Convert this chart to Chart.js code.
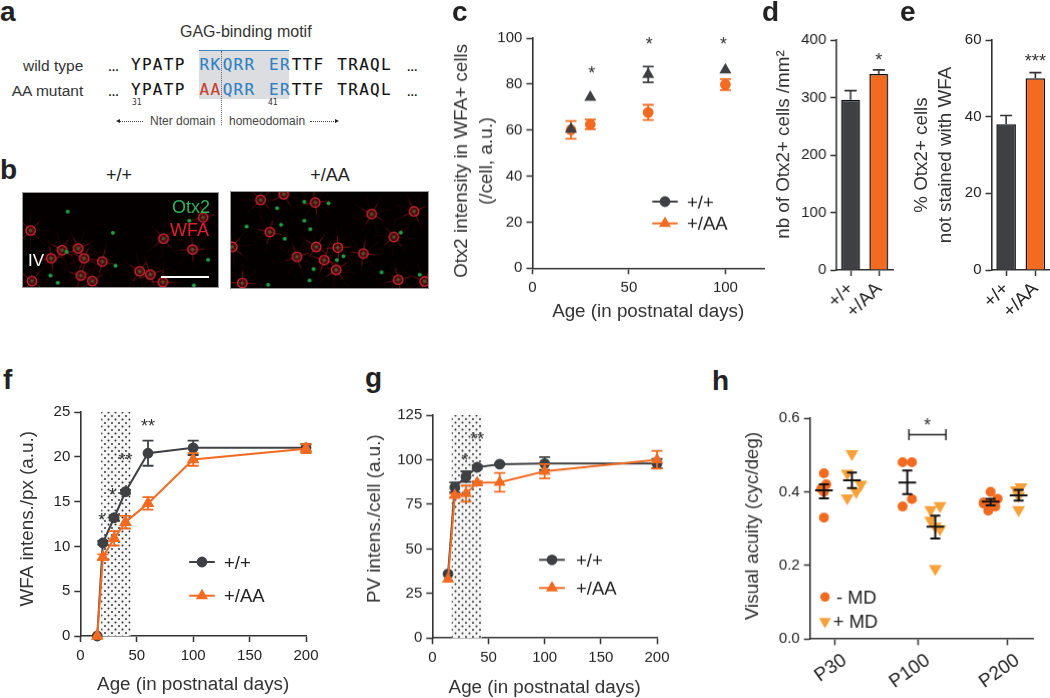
<!DOCTYPE html>
<html>
<head>
<meta charset="utf-8">
<title>Otx2 figure</title>
<script src="https://cdn.jsdelivr.net/npm/chart.js@4/dist/chart.umd.js"></script>
<style>
html, body { margin: 0; padding: 0; background: #fff; overflow: hidden; }
#page { position: relative; width: 1050px; height: 698px; overflow: hidden; font-family: "Liberation Sans", sans-serif; }
#page canvas { position: absolute; }
.txt { position: absolute; white-space: pre; line-height: 1; color: #333; }
.micro { border: 1px solid #999; background: #050000; box-sizing: border-box; filter: blur(0.5px); }
</style>
</head>
<body>
<div id="page"></div>
<script>
// ---- data ----

// panel c
var cNames = ['+/+', '+/AA'];
var cDarkDays = [20, 30, 60, 100];
var cDark = [60.4, 74.3, 84.2, 86.2];
var cDarkErr = [0, 0, 3.4, 0];
var cOrangeDays = [20, 30, 60, 100];
var cOrange = [60.1, 62.5, 67.7, 79.8];
var cOrangeErr = [3.9, 2.1, 3.3, 2.4];
var cStars = [[30.7, 86.5, '*'], [60.5, 99.5, '*'], [99, 99.5, '*']];

// panel d
var dLabels = ['+/+', '+/AA'];
var dValues = [296, 341];
var dErr = [16, 7];
var dStars = [[1, 373, '*']];

// panel e
var eLabels = ['+/+', '+/AA'];
var eValues = [38, 50];
var eErr = [2.3, 1.5];
var eStars = [[1, 55.8, '***']];

// panel f
var fDays = [15, 20, 30, 40, 60, 100, 200];
var fWild = [0, 10.4, 13.2, 16.1, 20.4, 21, 21];
var fWildErr = [0, 0.2, 0.3, 0.2, 1.4, 0.8, 0.4];
var fMutant = [0, 8.8, 10.9, 12.7, 14.8, 19.7, 20.9];
var fMutantErr = [0, 0.3, 0.8, 0.7, 0.7, 0.7, 0.5];
var fShade = [18.5, 44.5];
var fStars = [[60, 23.9, '**'], [40, 20.1, '**'], [28.5, 16.2, '*'], [19, 13.4, '*']];

// panel g
var gDays = [14, 20, 30, 40, 60, 100, 200];
var gWild = [36, 84.5, 90.5, 95.8, 97.5, 97.8, 97.8];
var gWildErr = [0, 2.8, 3, 1, 0.5, 3.6, 2.6];
var gMutant = [33, 80, 81, 87, 87.3, 93.5, 100];
var gMutantErr = [0, 1, 4.5, 1, 5.3, 4, 5];
var gShade = [17.3, 44];
var gStars = [[40, 114, '**'], [29, 102, '*']];

// panel h, x in group units (P30 = 1, P100 = 2, P200 = 3.08)
var hTicks = [1, 2, 3.076];
var hTickLabels = ['P30', 'P100', 'P200'];
var hNames = ['- MD', '+ MD'];
var hMinusX = [0.872, 0.9, 0.84, 0.872, 0.872, 1.816, 1.928, 1.928, 1.816, 2.872, 2.956, 2.788, 2.872, 2.928, 2.844, 2.788];
var hMinusY = [0.45, 0.42, 0.408, 0.4, 0.33, 0.48, 0.48, 0.38, 0.36, 0.4, 0.381, 0.371, 0.37, 0.36, 0.349, 0.368];
var hPlusX = [1.208, 1.152, 1.316, 1.26, 1.152, 2.152, 2.264, 2.152, 2.264, 2.208, 2.208, 3.236, 3.18, 3.208, 3.208];
var hPlusY = [0.503, 0.45, 0.42, 0.4, 0.383, 0.351, 0.362, 0.322, 0.299, 0.306, 0.191, 0.413, 0.405, 0.389, 0.351];
var hMeanX = [0.872, 1.208, 1.872, 2.208, 2.872, 3.208];
var hMean = [0.404, 0.431, 0.425, 0.305, 0.373, 0.39];
var hMeanHi = [0.42, 0.452, 0.458, 0.335, 0.381, 0.405];
var hMeanLo = [0.382, 0.41, 0.394, 0.273, 0.363, 0.376];
var hBracket = [1.892, 2.336, 0.555];
var hStars = [[2.112, 0.593, '*']];

// panel b, cells and free nuclei in image units
var bLeftCellX = [88, 150, 183, 232, 305, 490, 578, 418, 450, 240, 275, 488, 92, 610, 250];
var bLeftCellY = [690, 775, 750, 745, 785, 715, 748, 815, 825, 828, 845, 848, 845, 650, 775];
var bLeftDotX = [200, 337, 197, 345, 170, 568, 625, 582, 148];
var bLeftDotY = [632, 697, 755, 798, 850, 660, 780, 858, 828];
var bRightCellX = [780, 945, 1115, 1243, 808, 1182, 1013, 948, 890, 972, 1008, 725, 695, 1195, 1275, 850, 1090];
var bRightCellY = [597, 605, 640, 632, 695, 710, 742, 740, 770, 780, 810, 850, 740, 840, 845, 580, 760];
var bRightDotX = [912, 985, 830, 912, 738, 842, 930, 853, 1203, 1010, 1030, 940, 928, 803, 1145, 1260];
var bRightDotY = [603, 607, 622, 660, 678, 673, 686, 715, 697, 780, 768, 808, 842, 855, 817, 825];

// panel a
var seqWild = [['YPATP', 131, '#111'], ['RK', 199.5, '#2f7fc1'], ['QRR', 222.7, '#2f7fc1'], ['ER', 269, '#2f7fc1'], ['TTF', 291.7, '#111'], ['TRAQL', 337.3, '#111']];
var seqMutant = [['YPATP', 131, '#111'], ['AA', 199.5, '#c8402a'], ['QRR', 222.7, '#2f7fc1'], ['ER', 269, '#2f7fc1'], ['TTF', 291.7, '#111'], ['TRAQL', 337.3, '#111']];

// ---- colours ----
var DARK = '#3e4043';
var ORANGE = '#f26b21';
var AMBER = '#f8a13a';
var AXIS = '#333';

Chart.defaults.animation = false;
Chart.defaults.font.family = '"Liberation Sans", sans-serif';
Chart.defaults.color = '#222';
Chart.defaults.plugins.legend.display = false;
Chart.defaults.plugins.tooltip.enabled = false;

var page = document.getElementById('page');

function text(str, x, baseline, size, opts) {
	opts = opts || {};
	var d = document.createElement('div');
	d.className = 'txt';
	d.textContent = str;
	d.style.left = x + 'px';
	d.style.top = (baseline - 0.8465 * size) + 'px';
	d.style.fontSize = size + 'px';
	if (opts.color) d.style.color = opts.color;
	if (opts.bold) d.style.fontWeight = 'bold';
	if (opts.font) d.style.fontFamily = opts.font;
	if (opts.spacing) d.style.letterSpacing = opts.spacing + 'px';
	if (opts.stroke) d.style.webkitTextStroke = opts.stroke + 'px ' + (opts.color || '#333');
	if (opts.align == 'right') d.style.transform = 'translateX(-100%)';
	if (opts.align == 'center') d.style.transform = 'translateX(-50%)';
	page.appendChild(d);
}

function rect(x, y, w, h, style) {
	var d = document.createElement('div');
	d.style.position = 'absolute';
	d.style.left = x + 'px';
	d.style.top = y + 'px';
	d.style.width = w + 'px';
	d.style.height = h + 'px';
	for (var k in style) d.style[k] = style[k];
	page.appendChild(d);
}

function addCanvas(x, y, w, h) {
	var c = document.createElement('canvas');
	c.width = w;
	c.height = h;
	c.style.left = x + 'px';
	c.style.top = y + 'px';
	c.style.width = w + 'px';
	c.style.height = h + 'px';
	page.appendChild(c);
	return c;
}

var dotTile = null;
function dotPattern(ctx) {
	if (!dotTile) {
		dotTile = document.createElement('canvas');
		dotTile.width = 7;
		dotTile.height = 7;
		var t = dotTile.getContext('2d');
		t.fillStyle = '#f5f5f5';
		t.fillRect(0, 0, 7, 7);
		t.fillStyle = '#2a2a2a';
		[[1.5, 1.5], [5, 5]].forEach(function (p) {
			t.beginPath();
			t.arc(p[0], p[1], 0.95, 0, Math.PI * 2);
			t.fill();
		});
	}
	return ctx.createPattern(dotTile, 'repeat');
}

// error bars, shaded period, stars, mean bars and the little legends
var figureMarks = {
	id: 'figureMarks',
	beforeDatasetsDraw: function (chart, args, o) {
		if (!o.shade) return;
		var ctx = chart.ctx, a = chart.chartArea;
		var x1 = chart.scales.x.getPixelForValue(o.shade[0]);
		var x2 = chart.scales.x.getPixelForValue(o.shade[1]);
		ctx.save();
		ctx.fillStyle = dotPattern(ctx);
		ctx.fillRect(x1, a.top, x2 - x1, a.bottom - a.top);
		ctx.restore();
	},
	afterDatasetDraw: function (chart, args) {
		var ds = chart.data.datasets[args.index];
		if (!ds.errs) return;
		var ctx = chart.ctx, yScale = chart.scales.y;
		ctx.save();
		ctx.strokeStyle = ds.errColor || ds.borderColor;
		ctx.lineWidth = ds.errWidth || 1.8;
		args.meta.data.forEach(function (el, i) {
			var e = ds.errs[i];
			if (!e) return;
			var v = ds.yValues ? ds.yValues[i] : ds.data[i];
			var hi = yScale.getPixelForValue(v + e);
			var lo = yScale.getPixelForValue(ds.upOnly ? v : v - e);
			var c = ds.capWidth || 5.5;
			ctx.beginPath();
			ctx.moveTo(el.x, hi);
			ctx.lineTo(el.x, lo);
			ctx.moveTo(el.x - c, hi);
			ctx.lineTo(el.x + c, hi);
			if (!ds.upOnly) {
				ctx.moveTo(el.x - c, lo);
				ctx.lineTo(el.x + c, lo);
			}
			ctx.stroke();
		});
		ctx.restore();
	},
	afterDatasetsDraw: function (chart, args, o) {
		var ctx = chart.ctx, xs = chart.scales.x, ys = chart.scales.y;
		ctx.save();
		if (o.means) {
			ctx.strokeStyle = '#111';
			ctx.lineWidth = 2;
			o.means.x.forEach(function (v, i) {
				var px = xs.getPixelForValue(v);
				var m = ys.getPixelForValue(o.means.mean[i]);
				var hi = ys.getPixelForValue(o.means.hi[i]);
				var lo = ys.getPixelForValue(o.means.lo[i]);
				ctx.beginPath();
				ctx.moveTo(px - 8.8, m); ctx.lineTo(px + 8.8, m);
				ctx.moveTo(px, hi); ctx.lineTo(px, lo);
				ctx.moveTo(px - 5, hi); ctx.lineTo(px + 5, hi);
				ctx.moveTo(px - 5, lo); ctx.lineTo(px + 5, lo);
				ctx.stroke();
			});
		}
		if (o.bracket) {
			var bx1 = xs.getPixelForValue(o.bracket[0]);
			var bx2 = xs.getPixelForValue(o.bracket[1]);
			var by = ys.getPixelForValue(o.bracket[2]);
			ctx.strokeStyle = '#222';
			ctx.lineWidth = 1.5;
			ctx.beginPath();
			ctx.moveTo(bx1, by - 5.5); ctx.lineTo(bx1, by + 5.5);
			ctx.moveTo(bx2, by - 5.5); ctx.lineTo(bx2, by + 5.5);
			ctx.moveTo(bx1, by); ctx.lineTo(bx2, by);
			ctx.stroke();
		}
		if (o.stars) {
			ctx.fillStyle = '#333';
			ctx.font = '18px "Liberation Sans"';
			ctx.textAlign = 'center';
			ctx.textBaseline = 'alphabetic';
			o.stars.forEach(function (s) {
				ctx.fillText(s[2], xs.getPixelForValue(s[0]), ys.getPixelForValue(s[1]) + 10.5);
			});
		}
		if (o.legend) {
			ctx.textAlign = 'left';
			ctx.textBaseline = 'alphabetic';
			o.legend.forEach(function (it) {
				var x0 = it.x - chart.canvas.offsetLeft, y0 = it.y - chart.canvas.offsetTop;
				if (it.line) {
					ctx.strokeStyle = it.color;
					ctx.lineWidth = 2;
					ctx.beginPath();
					ctx.moveTo(x0 - it.line, y0);
					ctx.lineTo(x0 + it.line, y0);
					ctx.stroke();
				}
				ctx.fillStyle = it.color;
				ctx.strokeStyle = it.color;
				Chart.helpers.drawPoint(ctx, { pointStyle: it.style, radius: it.r, rotation: it.rot || 0, borderWidth: 1 }, x0, y0);
				ctx.fillStyle = '#222';
				ctx.font = it.size + 'px "Liberation Sans"';
				ctx.fillText(it.label, it.tx - chart.canvas.offsetLeft, y0 + it.size * 0.36);
			});
		}
		ctx.restore();
	}
};
Chart.register(figureMarks);

function axisBase(size) {
	return {
		border: { display: true, color: AXIS, width: 1.6 },
		grid: { drawOnChartArea: false, drawTicks: true, tickLength: 6, tickColor: AXIS, tickWidth: 1.5 },
		afterFit: function (s) { if (s.isHorizontal()) s.height = size; else s.width = size; }
	};
}

// plot = [left, top, right, bottom] of the plot area on the page
function panel(plot, yTitleX, yTitleLH, canvasBottom, cfg) {
	var padT = 22, padR = 24;
	var cx = Math.round(yTitleX - yTitleLH / 2);
	var cy = plot[1] - padT;
	var yW = plot[0] - cx;
	var xH = canvasBottom - plot[3];
	var c = addCanvas(cx, cy, plot[2] + padR - cx, canvasBottom - cy);
	var y = Object.assign(axisBase(yW), {
		min: cfg.y[0], max: cfg.y[1],
		ticks: { stepSize: cfg.y[2], font: { size: 15 }, padding: 4, includeBounds: false, color: '#222',
			callback: function (v) { return cfg.yDigits ? v.toFixed(cfg.yDigits) : v; } },
		title: { display: true, text: cfg.yTitle, color: '#333', padding: 0, font: { size: 18.8, lineHeight: yTitleLH / 18.8 } }
	});
	var x = Object.assign(axisBase(xH), cfg.x);
	x.grid = Object.assign({}, x.grid, cfg.xGrid || {});
	new Chart(c, {
		type: cfg.type || 'scatter',
		data: { labels: cfg.labels, datasets: cfg.datasets },
		options: {
			responsive: false,
			layout: { autoPadding: false, padding: { top: padT, right: padR, left: 0, bottom: 0 } },
			scales: { x: x, y: y },
			plugins: { figureMarks: cfg.marks || {} }
		}
	});
}

function pts(xs, ys) {
	return xs.map(function (v, i) { return { x: v, y: ys[i] }; });
}

function lineSet(name, xs, ys, errs, color, style, r, showLine, order) {
	return {
		label: name, data: pts(xs, ys), yValues: ys, errs: errs, borderColor: color, backgroundColor: color,
		errColor: color, pointStyle: style, pointRadius: r, pointBorderColor: color, pointBackgroundColor: color,
		showLine: showLine, borderWidth: 2, clip: false, order: order
	};
}

function numAxis(max, step) {
	return {
		type: 'linear', min: 0, max: max,
		ticks: { stepSize: step, includeBounds: false, font: { size: 15 }, padding: 5, maxRotation: 0, color: '#222' },
		title: { display: true, text: 'Age (in postnatal days)', color: '#333', padding: 0, font: { size: 18.8, lineHeight: 24 / 18.8 } }
	};
}

function legendItems(names, lx, lineHalf, tx, y1, y2, style1, style2) {
	return [
		{ label: names[0], color: DARK, style: style1, r: 4.4, x: lx, y: y1, line: lineHalf, tx: tx, size: 18.5 },
		{ label: names[1], color: ORANGE, style: style2, r: 5, x: lx, y: y2, line: lineHalf, tx: tx, size: 18.5 }
	];
}

// ---- panel c ----
panel([532.4, 38.3, 764.4, 268.3], 461, 25, 324, {
	yTitle: ['Otx2 intensity in WFA+ cells   ', '(/cell, a.u.)   '],
	y: [0, 100, 20],
	x: numAxis(120, 50),
	datasets: [
		lineSet('+/+ dark', cDarkDays, cDark, cDarkErr, DARK, 'triangle', 5, false, 1),
		lineSet('+/AA orange', cOrangeDays, cOrange, cOrangeErr, ORANGE, 'circle', 4.4, false, 2)
	],
	marks: { stars: cStars, legend: legendItems(cNames, 665, 12.7, 687, 201, 222.7, 'circle', 'triangle') }
});

// ---- panels d and e ----
function barPanel(plot, titleX, titleLH, title, labels, values, errs, yr, stars) {
	panel(plot, titleX, titleLH, 326, {
		type: 'bar',
		labels: labels,
		yTitle: title,
		y: yr,
		x: { type: 'category', ticks: { font: { size: 18.5 }, minRotation: 45, maxRotation: 45, autoSkip: false, padding: 2, color: '#222' } },
		xGrid: { offset: false },
		datasets: [{
			data: values, errs: errs, upOnly: true, errColor: '#333', capWidth: 6, errWidth: 1.6,
			backgroundColor: [DARK, ORANGE], borderColor: '#111', borderWidth: 1.5,
			categoryPercentage: 1, barPercentage: 0.67
		}],
		marks: { stars: stars }
	});
}
barPanel([836, 40, 892.6, 270], 784, 24, '    nb of Otx2+ cells /mm²', dLabels, dValues, dErr, [0, 400, 100], dStars);
barPanel([991.5, 40, 1050, 270], 922, 24, ['% Otx2+ cells', 'not stained with WFA'], eLabels, eValues, eErr, [0, 60, 20], eStars);

// ---- panel f ----
panel([80.3, 412, 306, 636], 28.3, 24, 697, {
	yTitle: '  WFA intens./px (a.u.)',
	y: [0, 25, 5],
	x: numAxis(200, 50),
	datasets: [
		lineSet('+/+', fDays, fWild, fWildErr, DARK, 'circle', 4.4, true, 2),
		lineSet('+/AA', fDays, fMutant, fMutantErr, ORANGE, 'triangle', 5.4, true, 1)
	],
	marks: { shade: fShade, stars: fStars, legend: legendItems(cNames, 202, 12.8, 224, 562, 595.7, 'circle', 'triangle') }
});

// ---- panel g ----
panel([432.3, 415.3, 657, 638.3], 375, 24, 700, {
	yTitle: '   PV intens./cell (a.u.)',
	y: [0, 125, 25],
	x: numAxis(200, 50),
	datasets: [
		lineSet('+/+', gDays, gWild, gWildErr, DARK, 'circle', 4.4, true, 2),
		lineSet('+/AA', gDays, gMutant, gMutantErr, ORANGE, 'triangle', 5, true, 1)
	],
	marks: { shade: gShade, stars: gStars, legend: legendItems(cNames, 552, 12.8, 576, 559.3, 587.3, 'circle', 'triangle') }
});

// ---- panel h ----
panel([809.7, 418.3, 1032.7, 639.3], 753, 24, 698, {
	yTitle: ' Visual acuity (cyc/deg)',
	y: [0, 0.6, 0.2],
	yDigits: 1,
	x: {
		type: 'linear', min: 0.704, max: 3.38,
		afterBuildTicks: function (s) { s.ticks = hTicks.map(function (v) { return { value: v }; }); },
		ticks: {
			font: { size: 19 }, minRotation: 35, maxRotation: 35, autoSkip: false, padding: 4, labelOffset: 10, color: '#222',
			callback: function (v, i) { return hTickLabels[i]; }
		}
	},
	datasets: [
		lineSet('- MD', hMinusX, hMinusY, null, ORANGE, 'circle', 4, false, 2),
		Object.assign(lineSet('+ MD', hPlusX, hPlusY, null, AMBER, 'triangle', 5.4, false, 1), { pointRotation: 180 })
	],
	marks: {
		means: { x: hMeanX, mean: hMean, hi: hMeanHi, lo: hMeanLo },
		bracket: hBracket,
		stars: hStars,
		legend: [
			{ label: hNames[0], color: ORANGE, style: 'circle', r: 4, x: 824.7, y: 596.3, tx: 836, size: 18.5 },
			{ label: hNames[1], color: AMBER, style: 'triangle', rot: 180, r: 5.4, x: 824.7, y: 620.7, tx: 832.7, size: 18.5 }
		]
	}
});

// ---- panel b micrographs ----
function micro(box, range, cellX, cellY, dotX, dotY) {
	var c = addCanvas(box[0], box[1], box[2], box[3]);
	c.className = 'micro';
	var cells = pts(cellX, cellY), dots = pts(dotX, dotY);
	var spin = function (ctx) { return ctx.dataIndex * 37; };
	new Chart(c, {
		type: 'scatter',
		data: { datasets: [
			{ data: dots, pointRadius: 2, pointBackgroundColor: '#1fa344', pointBorderWidth: 0, order: 1 },
			{ data: cells, pointRadius: 1.8, pointBackgroundColor: 'rgba(70,130,60,0.55)', pointBorderWidth: 0, order: 2 },
			{ data: cells, pointRadius: 4.8, pointBackgroundColor: 'rgba(120,25,25,0.5)', pointBorderColor: '#d62a38', pointBorderWidth: 1.3, order: 3 },
			{ data: cells, pointStyle: 'crossRot', pointRadius: 12, pointRotation: spin, pointBorderColor: 'rgba(180,25,35,0.55)', pointBorderWidth: 1, order: 4 },
			{ data: cells, pointStyle: 'star', pointRadius: 20, pointRotation: spin, pointBorderColor: 'rgba(120,20,25,0.28)', pointBorderWidth: 0.8, order: 5 }
		] },
		options: {
			responsive: false,
			layout: { autoPadding: false, padding: 0 },
			scales: {
				x: { display: false, min: range[0], max: range[1] },
				y: { display: false, min: range[2], max: range[3], reverse: true }
			}
		}
	});
}
micro([22, 192, 197, 96], [65, 655, 575, 863], bLeftCellX, bLeftCellY, bLeftDotX, bLeftDotY);
micro([230, 191, 199, 98], [691, 1285, 573, 865], bRightCellX, bRightCellY, bRightDotX, bRightDotY);

text('+/+', 119, 181, 18, { align: 'center', color: '#222' });
text('+/AA', 330, 181, 18, { align: 'center', color: '#222' });
text('Otx2', 172, 213, 18, { color: '#2fb457' });
text('WFA', 170, 236, 18, { color: '#e02030' });
text('IV', 28, 266, 17, { color: '#fff' });
rect(160.7, 276.3, 48, 1.6, { background: '#fff' });

// ---- panel a ----
rect(199.3, 50.7, 89.4, 48.3, { background: '#dcdde1' });
rect(199.3, 49.6, 89.4, 1.5, { background: '#3b86c8' });
rect(221.2, 50.7, 0, 74, { borderLeft: '1px dotted #666' });
text('GAG-binding motif', 180, 38, 16, { color: '#333' });
text('wild type', 83.3, 71, 15.5, { align: 'right', color: '#333' });
text('AA mutant', 83.3, 96, 15.5, { align: 'right', color: '#333' });

var MONO = '"DejaVu Sans Mono", monospace';
[[seqWild, 71], [seqMutant, 96]].forEach(function (row) {
	row[0].forEach(function (g) {
		text(g[0], g[1], row[1], 16, { font: MONO, color: g[2], spacing: 1.3, stroke: 0.12 });
	});
	text('…', 108, row[1], 11, { bold: true, color: '#111' });
	text('…', 406.7, row[1], 11, { bold: true, color: '#111' });
});
text('31', 132, 106, 8, { font: MONO, color: '#333' });
text('41', 268, 106, 8, { font: MONO, color: '#333' });
text('Nter domain', 150, 125, 12, { color: '#444' });
text('homeodomain', 229, 125, 12, { color: '#444' });
rect(119, 120.5, 24, 0, { borderTop: '1px dotted #444' });
rect(310, 120.5, 26, 0, { borderTop: '1px dotted #444' });
rect(116, 118.5, 0, 0, { borderRight: '4px solid #222', borderTop: '2.5px solid transparent', borderBottom: '2.5px solid transparent' });
rect(335, 118.5, 0, 0, { borderLeft: '4px solid #222', borderTop: '2.5px solid transparent', borderBottom: '2.5px solid transparent' });

// ---- panel letters ----
[['a', 0, 22], ['b', 0, 180], ['c', 452, 22], ['d', 762, 22], ['e', 900, 22], ['f', 3, 390], ['g', 365, 388], ['h', 712, 391]].forEach(function (l) {
	text(l[0], l[1], l[2], 28, { bold: true, color: '#222' });
});
</script>
</body>
</html>
